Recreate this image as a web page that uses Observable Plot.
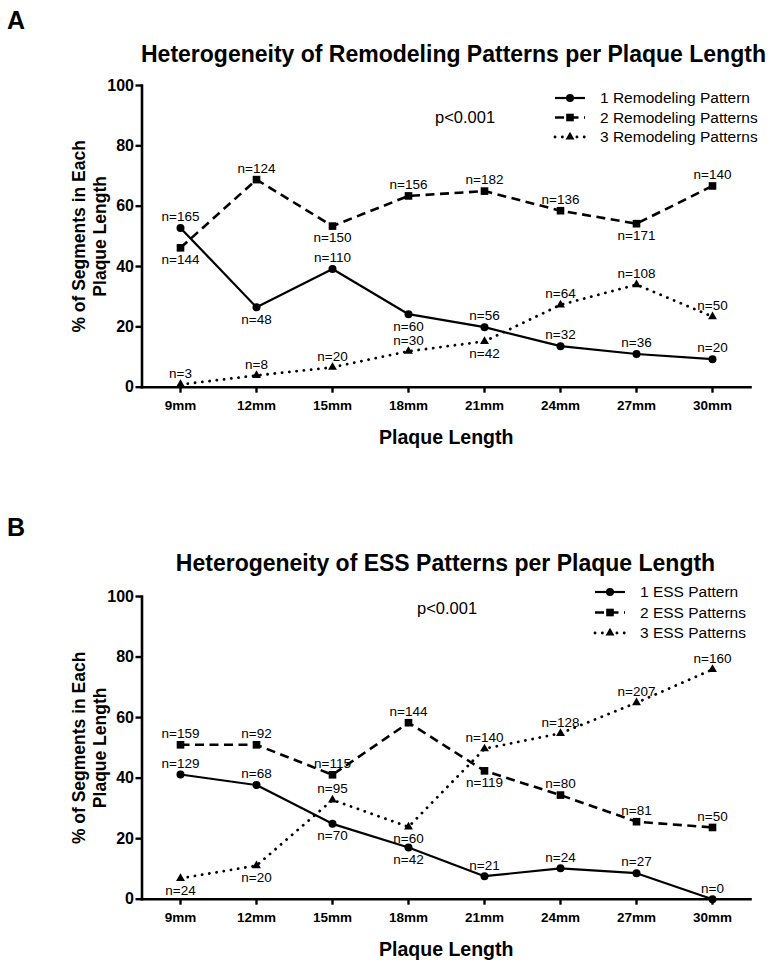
<!DOCTYPE html>
<html><head><meta charset="utf-8">
<script src="https://cdn.jsdelivr.net/npm/d3@7"></script>
<script src="https://cdn.jsdelivr.net/npm/@observablehq/plot@0.6"></script>
<style>
body{margin:0;background:#fff;font-family:"Liberation Sans",Arial,sans-serif;color:#000;}
.panel{position:relative;width:772px;height:484px;overflow:hidden;}
.panel > svg{position:absolute;left:0;top:0;}
.letter{position:absolute;font-weight:bold;font-size:25px;line-height:1;}
.title{position:absolute;left:141px;width:609px;text-align:center;font-weight:bold;font-size:23px;line-height:1;white-space:nowrap;}
.pval{position:absolute;font-size:16.5px;line-height:1;white-space:nowrap;}
g[aria-label="y-axis tick label"]{font-size:16px !important;font-weight:bold;}
g[aria-label="x-axis tick label"]{font-size:13.5px !important;font-weight:bold;}
</style></head><body>
<div id="A" class="panel"></div>
<div id="B" class="panel"></div>
<script>
// ---------- data ----------
const lengths = ["9mm","12mm","15mm","18mm","21mm","24mm","27mm","30mm"];
const yTicks = [0,20,40,60,80,100];

// Panel A: remodeling patterns (% of segments)
const remod1 = [52.8, 26.5, 39.2, 24.2, 19.9, 13.6, 11.0, 9.3];
const remod1N = [165, 48, 110, 60, 56, 32, 36, 20];
const remod1Side = ["above","below","above","below","above","above","above","above"];
const remod2 = [46.2, 68.8, 53.4, 63.4, 65.0, 58.5, 54.2, 66.7];
const remod2N = [144, 124, 150, 156, 182, 136, 171, 140];
const remod2Side = ["below","above","below","above","above","above","below","above"];
const remod3 = [0.9, 3.9, 6.6, 11.9, 15.2, 27.3, 34.0, 23.4];
const remod3N = [3, 8, 20, 30, 42, 64, 108, 50];
const remod3Side = ["above","above","above","above","below","above","above","above"];
const remodLegend = ["1 Remodeling Pattern","2 Remodeling Patterns","3 Remodeling Patterns"];

// Panel B: ESS patterns (% of segments)
const ess1 = [41.2, 37.7, 24.9, 17.1, 7.6, 10.2, 8.6, 0];
const ess1N = [129, 68, 70, 42, 21, 24, 27, 0];
const ess1Side = ["above","above","below","below","above","above","above","above"];
const ess2 = [51.0, 51.0, 41.1, 58.3, 42.4, 34.4, 25.6, 23.7];
const ess2N = [159, 92, 115, 144, 119, 80, 81, 50];
const ess2Side = ["above","above","above","above","below","above","above","above"];
const ess3 = [6.9, 11.1, 32.8, 23.9, 49.7, 54.8, 64.9, 75.9];
const ess3N = [24, 20, 95, 60, 140, 128, 207, 160];
const ess3Side = ["below","below","above","below","above","above","above","above"];
const essLegend = ["1 ESS Pattern","2 ESS Patterns","3 ESS Patterns"];

// ---------- styles ----------
const seriesStyle = [
  {symbol: "circle", r: 4, strokeWidth: 2.2, dash: null},
  {symbol: "square", r: 4.3, strokeWidth: 2.6, dash: "9,5.5"},
  {symbol: "triangle", r: 3.3, strokeWidth: 2.8, dash: "0.1,7.2"}
];
const FONT = "Liberation Sans, Arial, sans-serif";

function drawPanel(cfg) {
  const host = document.getElementById(cfg.id);
  const series = cfg.series.map((s, si) =>
    s.values.map((v, i) => ({length: lengths[i], value: v, n: s.n[i], side: s.side[i], si})));
  const marks = [];
  series.forEach((rows, si) => {
    const st = seriesStyle[si];
    marks.push(Plot.lineY(rows, {x: "length", y: "value", stroke: "black", strokeWidth: st.strokeWidth,
      strokeDasharray: st.dash, strokeLinecap: si === 2 ? "round" : "butt"}));
  });
  series.forEach((rows, si) => {
    const st = seriesStyle[si];
    marks.push(Plot.dot(rows, {x: "length", y: "value", symbol: st.symbol, r: st.r, fill: "black", stroke: "none"}));
  });
  series.forEach((rows) => {
    marks.push(Plot.text(rows.filter(d => d.side === "above"), {x: "length", y: "value", text: d => "n=" + d.n, dy: -11, fontSize: 13.5, fill: "black"}));
    marks.push(Plot.text(rows.filter(d => d.side === "below"), {x: "length", y: "value", text: d => "n=" + d.n, dy: 12, fontSize: 13.5, fill: "black"}));
  });
  const plot = Plot.plot({
    width: 772, height: 484,
    marginLeft: 141.5, marginRight: 22,
    marginTop: cfg.marginTop, marginBottom: cfg.marginBottom,
    style: {fontFamily: FONT, background: "white", color: "black", overflow: "visible"},
    x: {type: "point", domain: lengths, padding: 0.5},
    y: {domain: [0, 100]},
    marks: [
      Plot.frame({anchor: "left", stroke: "black", strokeWidth: 2.6}),
      Plot.frame({anchor: "bottom", stroke: "black", strokeWidth: 2.6, strokeLinecap: "square"}),
      Plot.axisY({ticks: yTicks, tickSize: 6, tickPadding: 2, strokeWidth: 2.4, fontSize: 16, fontWeight: "bold", label: null}),
      Plot.axisX({tickSize: 6, tickPadding: 7, strokeWidth: 2.4, fontSize: 13.5, fontWeight: "bold", label: null}),
      Plot.text(["% of Segments in Each\nPlaque Length"], {text: d => d, frameAnchor: "left", textAnchor: "middle", lineAnchor: "middle", dx: -53, rotate: -90, fontSize: 17.5, fontWeight: "bold", lineHeight: 1.2}),
      Plot.text(["Plaque Length"], {text: d => d, frameAnchor: "bottom", lineAnchor: "middle", dy: 51, fontSize: 19.5, fontWeight: "bold"}),
      ...marks
    ]
  });
  host.appendChild(plot);

  // letter, title, p-value
  const letter = document.createElement("div");
  letter.className = "letter"; letter.textContent = cfg.letter;
  letter.style.left = "7px"; letter.style.top = cfg.letterTop + "px";
  host.appendChild(letter);
  const title = document.createElement("div");
  title.className = "title"; title.textContent = cfg.title;
  title.style.top = cfg.titleTop + "px";
  host.appendChild(title);
  const p = document.createElement("div");
  p.className = "pval"; p.textContent = "p<0.001";
  p.style.left = cfg.pLeft + "px"; p.style.top = cfg.pTop + "px";
  host.appendChild(p);

  // legend
  const svg = d3.select(host).append("svg").attr("width", 772).attr("height", 484)
    .style("pointer-events", "none");
  cfg.legend.forEach((label, i) => {
    const st = seriesStyle[i];
    const y = cfg.legendTop + i * cfg.legendStep;
    const g = svg.append("g").attr("transform", `translate(0,${y})`);
    g.append("line").attr("x1", cfg.legendX).attr("x2", cfg.legendX + 30).attr("y1", 0).attr("y2", 0)
      .attr("stroke", "black").attr("stroke-width", st.strokeWidth)
      .attr("stroke-dasharray", st.dash).attr("stroke-linecap", i === 2 ? "round" : "butt");
    const symType = i === 0 ? d3.symbolCircle : i === 1 ? d3.symbolSquare : d3.symbolTriangle;
    g.append("path").attr("d", d3.symbol(symType, Math.PI * st.r * st.r)())
      .attr("transform", `translate(${cfg.legendX + 15},0)`).attr("fill", "black");
    g.append("text").attr("x", cfg.legendX + 45).attr("y", 0).attr("dy", "0.35em")
      .attr("font-family", FONT).attr("font-size", 15.5).attr("fill", "black").text(label);
  });
}

drawPanel({
  id: "A", letter: "A", letterTop: 8, titleTop: 43,
  title: "Heterogeneity of Remodeling Patterns per Plaque Length",
  marginTop: 85, marginBottom: 97.3,
  pLeft: 435, pTop: 109,
  legend: remodLegend, legendTop: 98, legendStep: 19.5, legendX: 555,
  series: [
    {values: remod1, n: remod1N, side: remod1Side},
    {values: remod2, n: remod2N, side: remod2Side},
    {values: remod3, n: remod3N, side: remod3Side}
  ]
});
drawPanel({
  id: "B", letter: "B", letterTop: 31, titleTop: 68,
  title: "Heterogeneity of ESS Patterns per Plaque Length",
  marginTop: 112, marginBottom: 69.3,
  pLeft: 417, pTop: 116,
  legend: essLegend, legendTop: 108, legendStep: 20.5, legendX: 595,
  series: [
    {values: ess1, n: ess1N, side: ess1Side},
    {values: ess2, n: ess2N, side: ess2Side},
    {values: ess3, n: ess3N, side: ess3Side}
  ]
});
</script>
</body></html>
